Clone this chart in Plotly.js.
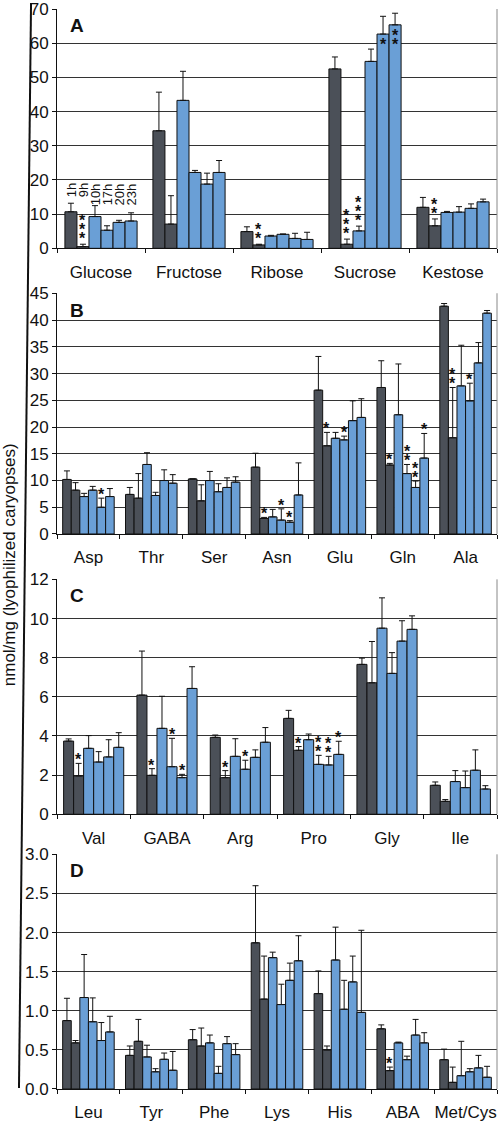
<!DOCTYPE html>
<html>
<head>
<meta charset="utf-8">
<script src="https://cdn.plot.ly/plotly-3.0.1.min.js"></script>
<style>
html,body{margin:0;padding:0;background:#fff;}
#chart{width:498px;height:1121px;}
</style>
</head>
<body>
<div id="chart"></div>
<script>
// ---------- DATA ----------
const timeLabels = ['1h', '9h', '10h', '17h', '20h', '23h'];

// Panel A: sugars (rows = compound, columns = time point)
const sugarNames = ['Glucose', 'Fructose', 'Ribose', 'Sucrose', 'Kestose'];
const sugarMeans = [
  [10.7, 0.5, 9.3, 5.3, 7.6, 8.0],
  [34.4, 7.1, 43.3, 22.2, 18.8, 22.2],
  [4.9, 1.0, 3.6, 4.1, 2.9, 2.6],
  [52.5, 1.2, 5.1, 54.7, 62.7, 65.4],
  [12.0, 6.6, 10.5, 10.6, 11.7, 13.6]
];
const sugarErrTop = [
  [13.2, 1.2, 12.5, 6.6, 8.2, 10.4],
  [45.7, 15.4, 51.8, 22.8, 22.0, 25.7],
  [6.3, 1.2, 3.8, 4.2, 4.4, 4.7],
  [56.0, 2.7, 6.5, 58.3, 67.9, 68.8],
  [14.9, 8.6, 10.8, 12.2, 13.0, 14.4]
];
// [compound index, time index, number of stars, placement]
const sugarStars = [[0,1,3,'above'],[2,1,2,'above'],[3,1,3,'above'],[3,2,3,'above'],[3,4,1,'inside'],[3,5,2,'inside'],[4,1,2,'above']];

// Panel B
const aminoB = ['Asp', 'Thr', 'Ser', 'Asn', 'Glu', 'Gln', 'Ala'];
const aminoBMeans = [
  [10.2, 8.2, 7.0, 8.2, 5.0, 7.0],
  [7.4, 6.7, 13.0, 7.2, 10.0, 9.5],
  [10.3, 6.2, 10.0, 7.9, 8.7, 9.7],
  [12.5, 2.9, 3.2, 2.6, 2.2, 7.3],
  [26.9, 16.5, 17.9, 17.6, 21.2, 21.8],
  [27.4, 12.9, 22.3, 11.3, 8.7, 14.2],
  [42.6, 18.0, 27.7, 24.9, 32.0, 41.3]
];
const aminoBErrTop = [
  [11.8, 9.6, 7.6, 8.9, 6.7, 8.5],
  [8.7, 11.3, 15.2, 7.8, 12.0, 11.1],
  [10.3, 9.2, 11.7, 9.4, 10.5, 10.7],
  [15.1, 3.1, 4.6, 4.7, 2.5, 13.3],
  [33.2, 19.0, 19.0, 18.3, 24.9, 25.3],
  [32.4, 13.2, 31.8, 13.0, 9.9, 18.8],
  [43.1, 27.4, 35.3, 28.2, 35.8, 41.8]
];
const aminoBStars = [[0,4,1,'above'],[3,1,1,'above'],[3,3,1,'above'],[3,4,1,'above'],[4,1,1,'above'],[4,3,1,'above'],[5,1,1,'above'],[5,3,2,'above'],[5,4,2,'above'],[5,5,1,'above'],[6,1,2,'above'],[6,3,1,'above']];

// Panel C
const aminoC = ['Val', 'GABA', 'Arg', 'Pro', 'Gly', 'Ile'];
const aminoCMeans = [
  [3.74, 1.96, 3.37, 2.67, 2.93, 3.42],
  [6.09, 1.99, 4.39, 2.43, 1.87, 6.43],
  [3.93, 1.87, 2.96, 2.30, 2.91, 3.68],
  [4.90, 3.27, 3.81, 2.55, 2.52, 3.06],
  [7.66, 6.72, 9.51, 7.20, 8.85, 9.45],
  [1.48, 0.66, 1.67, 1.36, 2.25, 1.29]
];
const aminoCErrTop = [
  [3.85, 2.60, 4.02, 3.20, 3.81, 4.17],
  [8.34, 2.33, 6.03, 3.88, 2.04, 7.54],
  [4.05, 2.23, 3.86, 2.76, 3.29, 4.43],
  [5.31, 3.46, 4.10, 3.01, 2.96, 3.73],
  [7.98, 8.83, 11.06, 8.26, 9.89, 10.14],
  [1.65, 0.75, 2.23, 2.21, 3.29, 1.46]
];
const aminoCStars = [[0,1,1,'above'],[1,1,1,'above'],[1,3,1,'above'],[1,4,1,'above'],[2,1,1,'above'],[2,3,1,'above'],[3,1,1,'above'],[3,3,2,'above'],[3,4,2,'above'],[3,5,1,'above']];

// Panel D
const aminoD = ['Leu', 'Tyr', 'Phe', 'Lys', 'His', 'ABA', 'Met/Cys'];
const aminoDMeans = [
  [0.875, 0.59, 1.17, 0.86, 0.62, 0.73],
  [0.43, 0.61, 0.41, 0.22, 0.38, 0.24],
  [0.63, 0.55, 0.59, 0.20, 0.58, 0.44],
  [1.87, 1.15, 1.68, 1.08, 1.39, 1.64],
  [1.22, 0.50, 1.65, 1.02, 1.37, 0.98],
  [0.77, 0.235, 0.59, 0.375, 0.69, 0.59],
  [0.375, 0.085, 0.17, 0.22, 0.27, 0.15]
];
const aminoDErrTop = [
  [1.16, 0.62, 1.72, 1.165, 0.85, 0.93],
  [0.55, 0.89, 0.56, 0.26, 0.46, 0.48],
  [0.76, 0.78, 0.69, 0.29, 0.67, 0.58],
  [2.60, 1.70, 1.75, 1.34, 1.61, 1.96],
  [1.51, 0.55, 2.07, 1.39, 1.70, 2.03],
  [0.82, 0.28, 0.60, 0.42, 0.89, 0.72],
  [0.51, 0.28, 0.61, 0.26, 0.43, 0.29]
];
const aminoDStars = [[5,1,1,'above']];

const yTitle = 'nmol/mg (lyophilized caryopses)';
const panelLetters = ['A', 'B', 'C', 'D'];

// ---------- STYLE ----------
const FONT = 'Liberation Sans, Arial, sans-serif';
const darkColor = '#4b5058';
const blueColor = '#6a9fd6';
const BARGAP = 0.18;

const panels = [
  {names: sugarNames, means: sugarMeans, err: sugarErrTop, stars: sugarStars, range: [0, 70], dtick: 10, fmt: '', domain: [0.7784, 1.0], starShift: -4},
  {names: aminoB, means: aminoBMeans, err: aminoBErrTop, stars: aminoBStars, range: [0, 45], dtick: 5, fmt: '', domain: [0.5139, 0.7368], starShift: -6},
  {names: aminoC, means: aminoCMeans, err: aminoCErrTop, stars: aminoCStars, range: [0, 12], dtick: 2, fmt: '', domain: [0.2544, 0.4719], starShift: -6},
  {names: aminoD, means: aminoDMeans, err: aminoDErrTop, stars: aminoDStars, range: [0, 3], dtick: 0.5, fmt: '.1f', domain: [0.0, 0.2173], starShift: -6}
];

const traces = [];
const annotations = [];
const shapes = [];
const layout = {
  width: 498, height: 1121,
  margin: {l: 57, r: 1, t: 9, b: 32},
  paper_bgcolor: '#fff', plot_bgcolor: '#fff',
  barmode: 'group', bargap: BARGAP, bargroupgap: 0,
  showlegend: false,
  font: {family: FONT, size: 17, color: '#111'}
};

const nT = timeLabels.length;
const w = (1 - BARGAP) / nT;
const barX = (c, i) => c + (i - (nT - 1) / 2) * w;
const starGlyph = '<span style="font-size:16px;font-weight:bold">*</span>';

panels.forEach((p, k) => {
  const sfx = k === 0 ? '' : String(k + 1);
  const xa = 'x' + sfx, ya = 'y' + sfx;
  for (let i = 0; i < nT; i++) {
    const ys = p.means.map(r => r[i]);
    const ups = p.err.map((r, c) => Math.max(0, r[i] - p.means[c][i]));
    traces.push({
      type: 'bar', name: timeLabels[i], x: p.names, y: ys,
      xaxis: xa, yaxis: ya,
      marker: {color: i < 2 ? darkColor : blueColor, line: {color: '#111', width: 1}},
      error_y: {type: 'data', symmetric: false, array: ups, arrayminus: ys.map(() => 0),
                color: '#111', thickness: 1, width: 3},
      hoverinfo: 'skip'
    });
  }
  const tv = [];
  for (let v = p.range[0]; v <= p.range[1] + 1e-9; v += p.dtick) tv.push(+v.toFixed(4));
  layout['xaxis' + sfx] = {
    type: 'category', domain: [0, 1], anchor: ya,
    showline: true, linecolor: '#111', linewidth: 1,
    ticks: 'outside', tickson: 'boundaries', ticklen: 4, tickcolor: '#111',
    tickangle: 0,
    tickfont: {size: 17, color: '#111', family: FONT}, ticklabelstandoff: 8,
    showgrid: false, zeroline: false, fixedrange: true
  };
  layout['yaxis' + sfx] = {
    domain: p.domain, anchor: xa, range: [p.range[0], p.range[1] * 1.0005],
    tickmode: 'array', tickvals: tv,
    ticktext: tv.map(v => p.fmt ? v.toFixed(1) : String(v)),
    showline: true, linecolor: '#111', linewidth: 1,
    ticks: 'outside', ticklen: 4, tickcolor: '#111',
    tickfont: {size: 17, color: '#111', family: FONT},
    showgrid: true, gridcolor: '#333', gridwidth: 1,
    zeroline: false, fixedrange: true
  };
  // right frame line
  shapes.push({type: 'line', xref: xa + ' domain', yref: ya + ' domain', x0: 1, x1: 1, y0: 0, y1: 1,
               line: {color: '#888', width: 1}});
  // panel letter
  annotations.push({xref: xa + ' domain', yref: ya + ' domain', x: 0.024, y: 0.93,
                    xanchor: 'left', yanchor: 'middle', text: '<b>' + panelLetters[k] + '</b>',
                    showarrow: false, font: {size: 19, color: '#111', family: FONT}});
  // significance stars: one stacked annotation per bar (tight line spacing from small base font)
  p.stars.forEach(([c, i, n, pos]) => {
    const inside = pos === 'inside';
    annotations.push({
      xref: xa, yref: ya, x: barX(c, i),
      y: inside ? p.means[c][i] : p.err[c][i],
      xanchor: 'center', yanchor: inside ? 'top' : 'bottom', showarrow: false,
      text: Array(n).fill(starGlyph).join('<br>'),
      yshift: inside ? -1 : p.starShift,
      borderpad: 0,
      font: {size: 7, color: '#111', family: FONT}
    });
  });
});

// time-point labels above the first group of panel A
timeLabels.forEach((t, i) => {
  annotations.push({xref: 'x', yref: 'y', x: barX(0, i), y: 19.6, xanchor: 'center', yanchor: 'top',
                    textangle: -90, text: t, showarrow: false,
                    font: {size: 13, color: '#111', family: FONT}});
});

// shared y-axis title
annotations.push({xref: 'paper', yref: 'paper', x: -0.109, y: 0.485, xanchor: 'center', yanchor: 'middle',
                  textangle: -90, text: yTitle, showarrow: false,
                  font: {size: 17, color: '#111', family: FONT}});

// long slanted bracket line on the left
shapes.push({type: 'line', xref: 'paper', yref: 'paper', x0: -0.059, y0: 1.0056, x1: -0.0864, y1: 0.0009,
             line: {color: '#111', width: 2}});

layout.annotations = annotations;
layout.shapes = shapes;

Plotly.newPlot('chart', traces, layout, {staticPlot: true, displayModeBar: false});
</script>
</body>
</html>
